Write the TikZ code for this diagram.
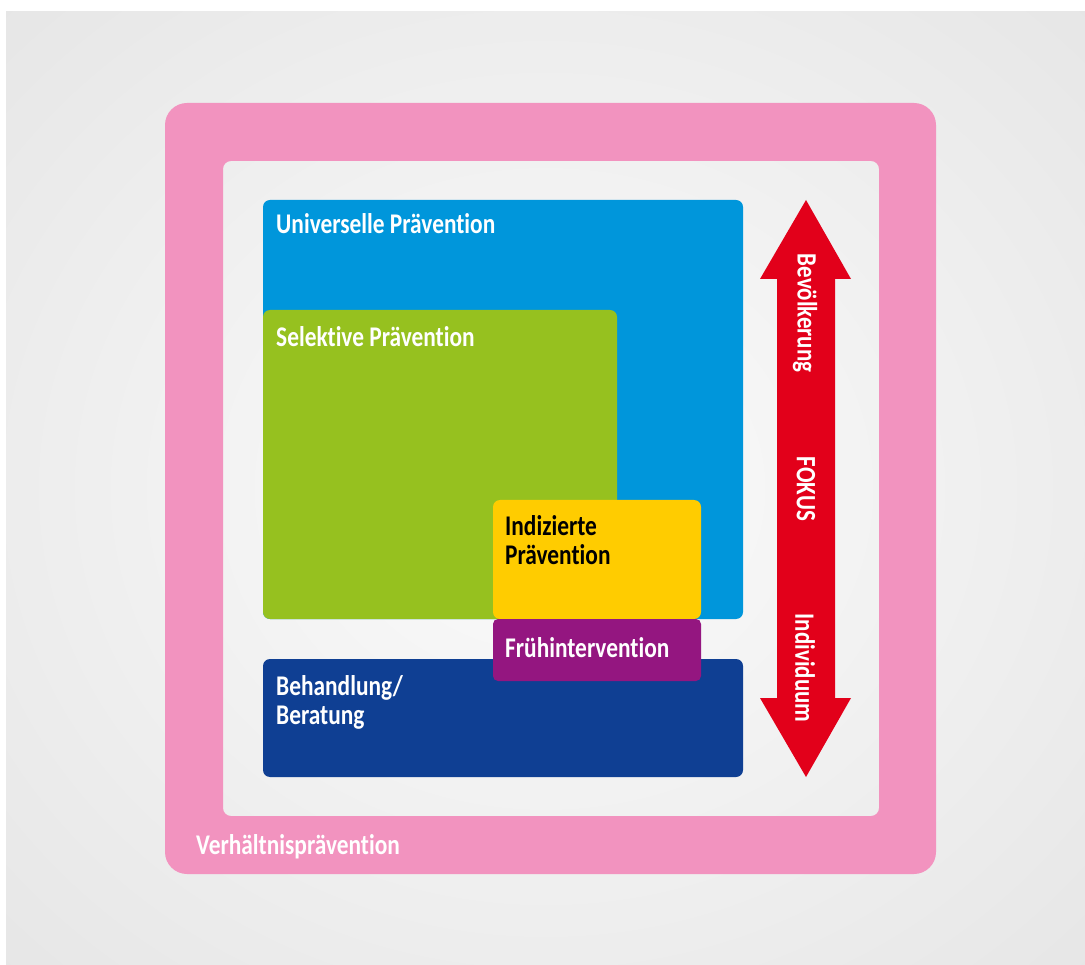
\documentclass[tikz,border=0pt]{standalone}
\usepackage{fontspec}
\setmainfont{Carlito}[FakeStretch=0.82, Ligatures=NoCommon]
\definecolor{bgout}{HTML}{D4D4D4}
\definecolor{bgin}{HTML}{F8F8F8}
\definecolor{rahmen}{HTML}{F293BF}
\definecolor{universell}{HTML}{0096DB}
\definecolor{selektiv}{HTML}{96C11F}
\definecolor{indiziert}{HTML}{FFCC00}
\definecolor{frueh}{HTML}{941680}
\definecolor{behandlung}{HTML}{0F3F93}
\definecolor{fokus}{HTML}{E2001A}
\pgfdeclareradialshading{hintergrund}{\pgfpoint{0bp}{0bp}}{color(0bp)=(bgin); color(6bp)=(bgin); color(66bp)=(bgout)}
\tikzset{
  feld/.style={rounded corners=7pt},
  beschriftung/.style={anchor=base west, inner sep=0pt, text=white, align=left,
    font=\fontsize{28.5}{29}\selectfont\bfseries},
  pfeiltext/.style={rotate=-90, inner sep=0pt, text=white,
    font=\fontsize{28}{29}\selectfont\bfseries}
}
\begin{document}
\begin{tikzpicture}[x=1pt, y=-1pt]
\useasboundingbox (0,0) rectangle (1085,965);
\fill[white] (0,0) rectangle (1085,965);
\shade[shading=hintergrund] (6,12) rectangle (1085,965);
% Rahmen Verhaeltnispraevention
\fill[rahmen, even odd rule] [rounded corners=22pt] (165,103) rectangle (936,874)
  {[rounded corners=8pt] (223,161) rectangle (879,816)};
% Felder
\fill[universell, feld] (263,200) rectangle (743,619);
\fill[behandlung, feld] (263,659) rectangle (743,777);
\fill[selektiv, feld] (263,310) rectangle (617,619);
\fill[indiziert, feld] (493,500) rectangle (701,619);
\fill[frueh, rounded corners=5pt] (493,619) rectangle (701,681);
% Fokus-Pfeil
\coordinate (oben) at (806,200);
\coordinate (unten) at (806,777);
\fill[fokus] (oben) -- (851,279) -- (835,279) -- (835,698) -- (851,698) -- (unten)
  -- (760,698) -- (777,698) -- (777,279) -- (760,279) -- cycle;
% Texte (Grundlinie der letzten Zeile)
\node[beschriftung] (universellLbl) at (276,234) {Universelle Prävention};
\node[beschriftung] (selektivLbl) at (276,347) {Selektive Prävention};
\node[beschriftung, text=black] (indiziertLbl) at (505,565) {Indizierte\\Prävention};
\node[beschriftung] (fruehLbl) at (505,657) {Frühintervention};
\node[beschriftung] (behandlungLbl) at (276,724) {Behandlung/\\Beratung};
\node[beschriftung] (rahmenLbl) at (196,854) {Verhältnisprävention};
\node[pfeiltext] (bevLbl) at (805,313) {Bevölkerung};
\node[pfeiltext] (fokusLbl) at (806,489) {FOKUS};
\node[pfeiltext] (indLbl) at (805,668) {Individuum};
\end{tikzpicture}
\end{document}
